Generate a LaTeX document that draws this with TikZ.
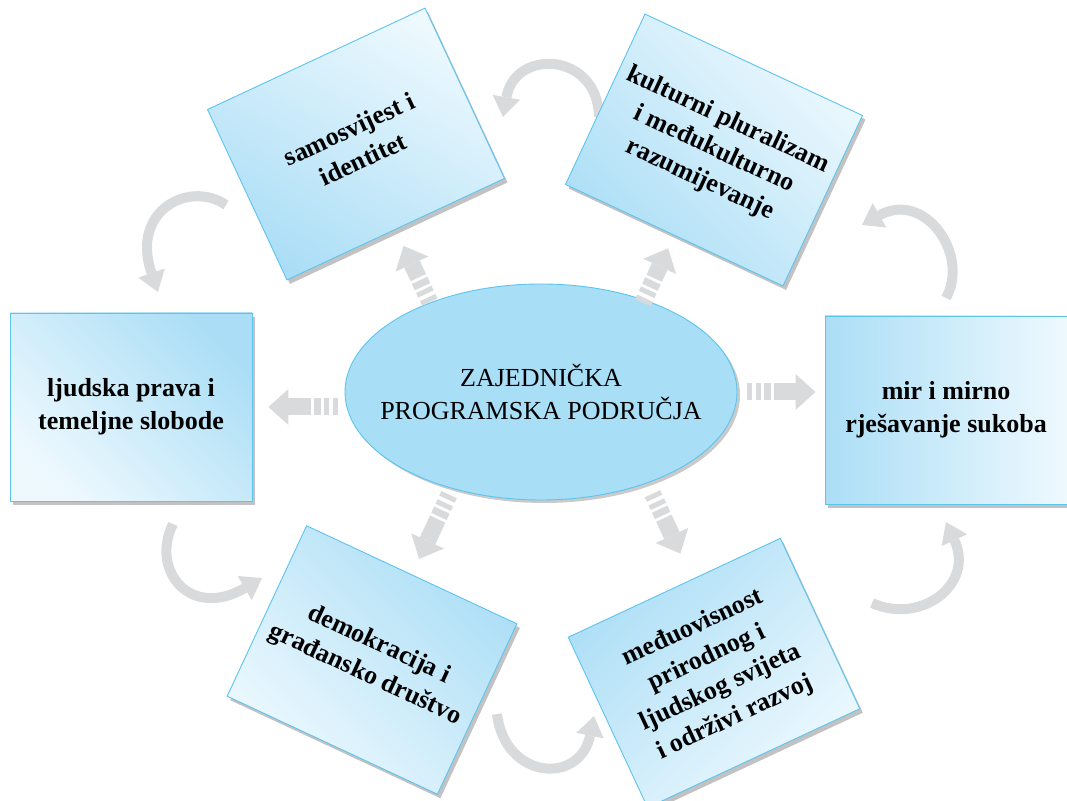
\documentclass[tikz,border=0pt]{standalone}
\usepackage{fontspec}
\setmainfont{Liberation Serif}
\usetikzlibrary{positioning, arrows.meta, shapes.geometric, shadows, calc}
\definecolor{rubplav}{HTML}{5CC4EF}
\definecolor{svijetlo}{HTML}{EEF9FE}
\definecolor{tamno}{HTML}{ABDEF6}
\definecolor{elipsa}{HTML}{A9DEF7}
\definecolor{siva}{HTML}{D9DADC}
\tikzset{
  polje/.style={
    draw=rubplav,
    line width=0.9pt,
    rectangle,
    minimum width=240pt,
    minimum height=188pt,
    inner sep=0pt,
    align=center,
    font=\bfseries\fontsize{26}{33}\selectfont,
    drop shadow={shadow xshift=3pt, shadow yshift=-4pt, opacity=0.4, fill=black!60}
  },
  krak/.style={
    draw=siva,
    line width=17pt,
    dash pattern=on 5pt off 4pt on 5pt off 3pt on 7pt off 3pt on 300pt,
    -{Triangle[width=36pt, length=20pt, line width=0pt]}
  },
  kruzna/.style={
    draw=siva,
    line width=10pt,
    -{Triangle[width=28pt, length=20pt, line width=0pt]}
  }
}

\begin{document}
\begin{tikzpicture}[x=1pt, y=1pt]
    \useasboundingbox (0,0) rectangle (1067,800);

    % kruzne strelice izmedu polja
    \coordinate (k1a) at (599,683);
    \coordinate (k1b) at (503,683);
    \coordinate (k2a) at (226,595);
    \coordinate (k2b) at (158,508);
    \coordinate (k3a) at (173,276);
    \coordinate (k3b) at (262,222);
    \coordinate (k4a) at (497,86);
    \coordinate (k4b) at (594,84);
    \coordinate (k5a) at (872,197);
    \coordinate (k5b) at (946,278);
    \coordinate (k6a) at (946,502);
    \coordinate (k6b) at (862,575);
    \draw[kruzna] (k1a) .. controls (598,748) and (515,752) .. (k1b);
    \draw[kruzna] (k2a) .. controls (190,620) and (130,590) .. (k2b);
    \draw[kruzna] (k3a) .. controls (150,230) and (190,180) .. (k3b);
    \draw[kruzna] (k4a) .. controls (505,20) and (580,15) .. (k4b);
    \draw[kruzna] (k5a) .. controls (920,175) and (975,215) .. (k5b);
    \draw[kruzna] (k6a) .. controls (970,545) and (925,610) .. (k6b);

    % polja
    \node[polje, rotate=25, top color=svijetlo, bottom color=tamno, shading angle=-30] (b1) at (356,656)
        {samosvijest i\\ identitet};
    \node[polje, rotate=-25, top color=svijetlo, bottom color=tamno, shading angle=-45] (b2) at (714,650)
        {kulturni pluralizam\\ i međukulturno\\ razumijevanje};
    \node[polje, minimum width=242pt, top color=tamno, bottom color=svijetlo, shading angle=-45] (b3) at (131,393)
        {ljudska prava i\\ temeljne slobode};
    \node[polje, minimum width=242pt, top color=svijetlo, bottom color=tamno, shading angle=-90] (b4) at (946,390)
        {mir i mirno\\ rješavanje sukoba};
    \node[polje, rotate=-25, minimum width=232pt, top color=tamno, bottom color=svijetlo, shading angle=-45] (b5) at (372,140)
        {demokracija i\\ građansko društvo};
    \node[polje, rotate=25, minimum width=234pt, top color=tamno, bottom color=svijetlo, shading angle=45] (b6) at (714,127)
        {međuovisnost\\ prirodnog i\\ ljudskog svijeta\\ i održivi razvoj};

    \node[ellipse, draw=rubplav, line width=0.9pt, fill=elipsa, minimum width=392pt, minimum height=216pt, inner sep=0pt,
          drop shadow={shadow xshift=3pt, shadow yshift=-3pt, opacity=0.35, fill=black!60}] (ell) at (541,408) {};
    \node[align=center, font=\fontsize{26}{33}\selectfont] (elltekst) at (ell.center)
        {ZAJEDNIČKA\\ PROGRAMSKA PODRUČJA};

    % strelice iz sredine
    \coordinate (b6g) at ($(b6.north)!20pt!(b6.north east)$);
    \coordinate (b6d) at ($(b6.south)!20pt!(b6.south east)$);
    \draw[krak] ($(b1.south)!-80pt!(b1.center)$) -- ($(b1.south)!-18pt!(b1.center)$);
    \draw[krak] ($(b2.south)!-74pt!(b2.center)$) -- ($(b2.south)!-14pt!(b2.center)$);
    \draw[krak] ($(ell.west |- b3.east)+(-7pt,0)$) -- ($(b3.east)+(16pt,0)$);
    \draw[krak] ($(ell.east)+(10pt,0)$) -- ($(ell.east -| b4.west)+(-9pt,0)$);
    \draw[krak] ($(b5.north)!-88pt!(b5.center)$) -- ($(b5.north)!-17pt!(b5.center)$);
    \draw[krak] ($(b6g)!-94pt!(b6d)$) -- ($(b6g)!-28pt!(b6d)$);
\end{tikzpicture}
\end{document}
